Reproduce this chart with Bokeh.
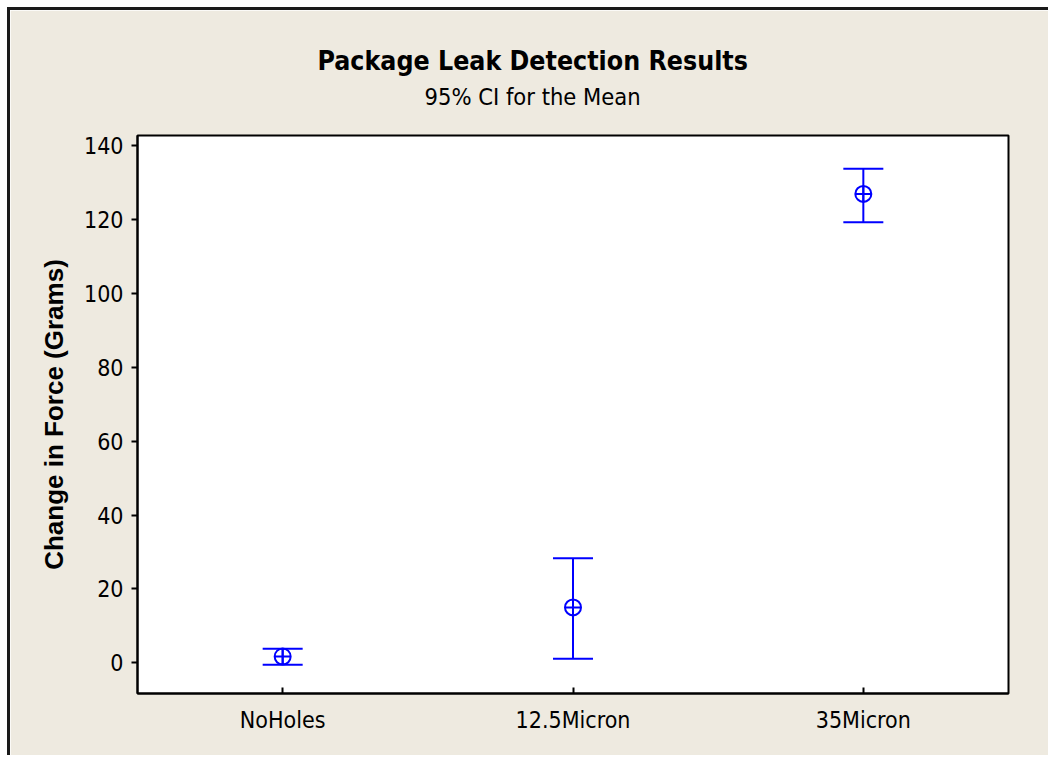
from bokeh.plotting import figure
from bokeh.models import (ColumnDataSource, FactorRange, Range1d, FixedTicker,
                          Whisker, TeeHead, Title)
from bokeh.embed import file_html
from bokeh.resources import INLINE

# ---- data ----
categories = ["NoHoles", "12.5Micron", "35Micron"]
means = [1.7, 15.0, 126.9]
lower = [-0.5, 1.1, 119.2]
upper = [3.8, 28.3, 133.7]
y_ticks = [0, 20, 40, 60, 80, 100, 120, 140]

BG = "#EEEAE0"
BLUE = "#0000FF"
TICK_FONT = "DejaVu Sans Condensed"

src = ColumnDataSource(dict(cat=categories, mean=means, lo=lower, hi=upper))

p = figure(x_range=FactorRange(*categories, range_padding=0),
           y_range=Range1d(-8.3, 142.7),
           width=1041, height=748,
           output_backend="svg", toolbar_location=None,
           min_border_left=127, min_border_right=43,
           min_border_top=125, min_border_bottom=65,
           background_fill_color="white", border_fill_color=BG,
           styles={"border-left": "3px solid #1a1a1a",
                   "border-top": "3px solid #1a1a1a",
                   "margin-left": "7px", "margin-top": "7px"})

# spacer title (nearest the frame), drawn in the background colour
spacer = Title(text=".", text_font_size="2px", text_color=BG, standoff=22)
p.add_layout(spacer, "above")

sub = Title(text="95% CI for the Mean", align="left", offset=287,
            text_font=TICK_FONT, text_font_size="23.5px",
            text_font_style="normal", text_color="black", standoff=0)
p.add_layout(sub, "above")
main = Title(text="Package Leak Detection Results", align="left", offset=180,
             text_font=TICK_FONT, text_font_size="26.5px",
             text_font_style="bold", text_color="black", standoff=10)
p.add_layout(main, "above")

p.grid.visible = False
p.outline_line_color = "black"
p.outline_line_width = 2

# axes
p.yaxis.ticker = FixedTicker(ticks=y_ticks)
p.yaxis.major_tick_in = 0
p.yaxis.major_tick_out = 6
p.yaxis.minor_tick_line_color = None
p.yaxis.major_label_standoff = 8
p.yaxis.axis_label = "Change in Force (Grams)"
p.yaxis.axis_label_text_font = "Liberation Sans"
p.yaxis.axis_label_text_font_style = "bold"
p.yaxis.axis_label_text_font_size = "26px"
p.yaxis.axis_label_standoff = 12

p.xaxis.major_tick_in = 6
p.xaxis.major_tick_out = 0
p.xaxis.major_label_standoff = 13

for ax in (p.xaxis, p.yaxis):
    ax.axis_line_color = "black"
    ax.axis_line_width = 2
    ax.major_tick_line_color = "black"
    ax.major_tick_line_width = 2
    ax.major_label_text_font = TICK_FONT
    ax.major_label_text_font_size = "23px"
    ax.major_label_text_color = "black"
    ax.axis_label_text_color = "black"

# error bars
w = Whisker(source=src, base="cat", lower="lo", upper="hi",
            line_color=BLUE, line_width=2,
            upper_head=TeeHead(size=40, line_color=BLUE, line_width=2),
            lower_head=TeeHead(size=40, line_color=BLUE, line_width=2))
p.add_layout(w)

p.scatter("cat", "mean", source=src, marker="circle_cross", size=16,
          fill_color=None, line_color=BLUE, line_width=2)

open("out.html", "w").write(file_html(p, INLINE))
